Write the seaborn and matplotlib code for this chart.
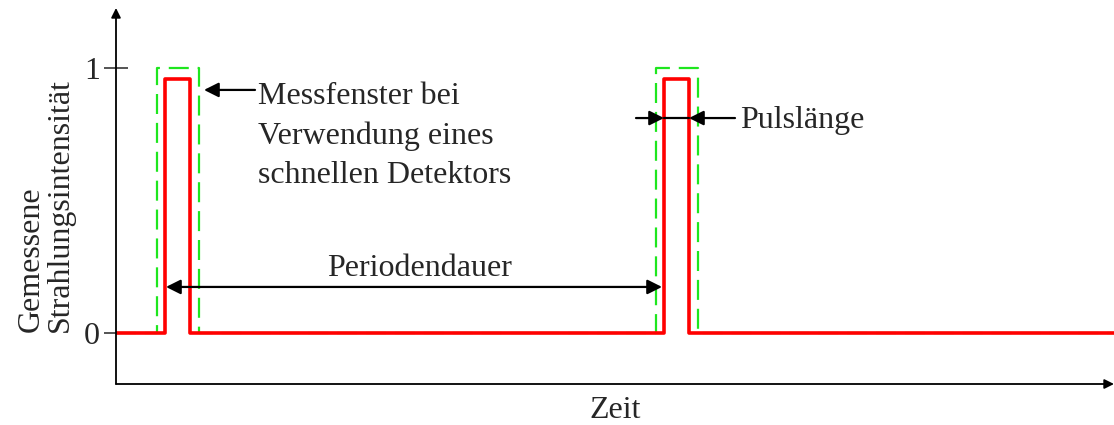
import numpy as np
import pandas as pd
import matplotlib
matplotlib.use("Agg")
import matplotlib.pyplot as plt
import seaborn as sns

# time axis in arbitrary units (0 .. x_end)
x_end = 998
pulse_on = [49, 548]
pulse_off = [74, 573]
pulse_level = 0.96
window_on = [41, 540]
window_off = [83, 582]
window_level = 1.0
yticks = [0, 1]
ytick_labels = ["0", "1"]


def step_trace(starts, ends, level, xmax):
    xs, ys = [0], [0]
    for s, e in zip(starts, ends):
        xs += [s, s, e, e]
        ys += [0, level, level, 0]
    xs.append(xmax)
    ys.append(0)
    return pd.DataFrame({"t": xs, "I": ys})


sig = step_trace(pulse_on, pulse_off, pulse_level, x_end)
win = step_trace(window_on, window_off, window_level, x_end)

sns.set_style("white")
plt.rcParams["font.family"] = ["Liberation Serif", "DejaVu Serif"]
fs = 23

fig = plt.figure(figsize=(11.14, 4.25), dpi=100)
ax = fig.add_axes([116 / 1114, 41 / 425, 998 / 1114, 376 / 425])

sns.lineplot(data=win, x="t", y="I", estimator=None, sort=False, ax=ax,
             color="#1ee61e", lw=1.6, linestyle=(0, (9, 4)))
sns.lineplot(data=sig, x="t", y="I", estimator=None, sort=False, ax=ax,
             color="#ff0000", lw=2.6)

ax.set_xlim(0, x_end)
ax.set_ylim(-0.192, 1.226)
for sp in ax.spines.values():
    sp.set_visible(False)
ax.set_xticks([])
ax.set_yticks(yticks)
ax.set_yticklabels(ytick_labels, fontsize=fs)
ax.tick_params(axis="y", direction="inout", length=17, width=1.1, pad=3, left=True)
ax.set_xlabel("")
ax.set_ylabel("")

# axis arrows
arr = dict(arrowstyle="-|>", lw=1.3, color="black", mutation_scale=14, shrinkA=0, shrinkB=0)
ax.annotate("", xy=(1, 0), xytext=(0, 0), xycoords="axes fraction", arrowprops=arr)
ax.annotate("", xy=(0, 1), xytext=(0, 0), xycoords="axes fraction", arrowprops=arr)

pointer = dict(arrowstyle="-|>", lw=1.6, color="black", mutation_scale=22,
               shrinkA=0, shrinkB=0)

# Messfenster annotation
ax.annotate("", xy=(88, 0.917), xytext=(139, 0.917), arrowprops=pointer)
ax.text(142, 0.743, "Messfenster bei\nVerwendung eines\nschnellen Detektors",
        fontsize=fs, ha="left", va="center", linespacing=1.45)

# Periodendauer
ax.annotate("", xy=(pulse_on[0] + 1, 0.174), xytext=(pulse_on[1] - 2, 0.174),
            arrowprops=dict(pointer, arrowstyle="<|-|>"))
ax.text(304, 0.245, "Periodendauer", fontsize=fs, ha="center", va="center")

# Pulslaenge
ax.annotate("", xy=(pulse_on[1], 0.811), xytext=(520, 0.811), arrowprops=pointer)
ax.annotate("", xy=(pulse_off[1], 0.811), xytext=(619, 0.811), arrowprops=pointer)
ax.plot([pulse_on[1], pulse_off[1]], [0.811, 0.811], color="black", lw=1.6)
ax.text(624, 0.80, "Pulslänge", fontsize=fs, ha="left", va="center")

fig.text(615 / 1114, 1 - 410 / 425, "Zeit", fontsize=fs, ha="center", va="center")
fig.text(46 / 1114, 1 - 332 / 425, "Gemessene\nStrahlungsintensität", fontsize=fs,
         rotation=90, ha="center", va="bottom", multialignment="left", linespacing=1.0)

fig.savefig("out.png", dpi=100)
